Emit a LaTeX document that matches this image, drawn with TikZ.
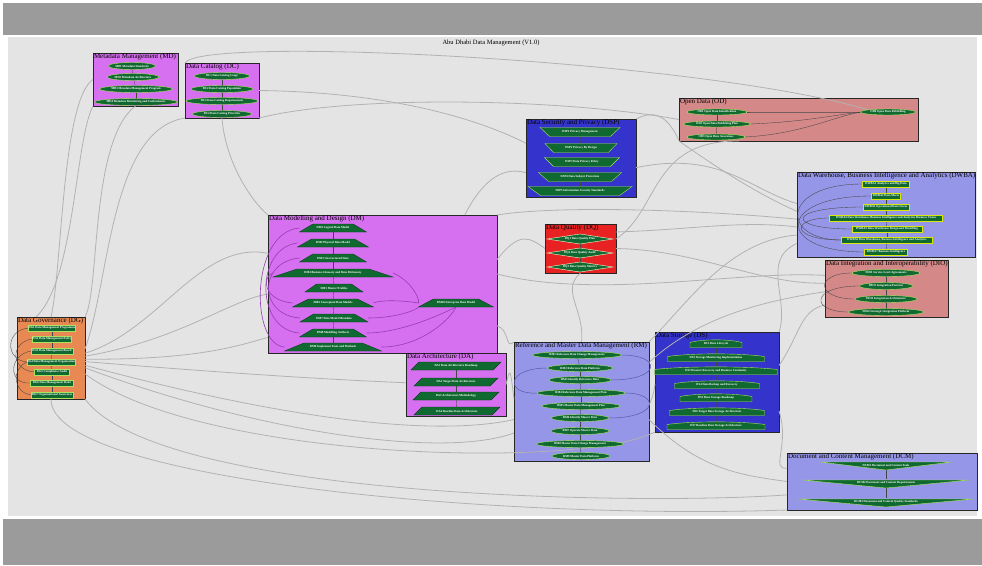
\documentclass[tikz,border=0pt]{standalone}
\usepackage{fontspec}
\setmainfont{Liberation Serif}
\usetikzlibrary{shapes.geometric}
\pgfdeclarelayer{bg}
\pgfdeclarelayer{wires}
\pgfsetlayers{bg,wires,main}

\definecolor{bandgray}{RGB}{155,155,155}
\definecolor{canvasgray}{RGB}{228,228,228}
\definecolor{violetfill}{RGB}{214,112,240}
\definecolor{orangefill}{RGB}{232,136,82}
\definecolor{bluefill}{RGB}{52,52,205}
\definecolor{lavfill}{RGB}{150,150,232}
\definecolor{rosefill}{RGB}{212,136,136}
\definecolor{redfill}{RGB}{232,34,34}
\definecolor{leaf}{RGB}{16,105,48}
\definecolor{leafedge}{RGB}{170,225,95}
\definecolor{wiregray}{RGB}{178,178,178}
\definecolor{innerwire}{RGB}{70,70,70}
\definecolor{dmwire}{RGB}{150,60,180}
\definecolor{rmwire}{RGB}{90,90,170}

\tikzset{
  cluster/.style={draw=black!85, line width=0.8pt, anchor=north west, inner sep=0pt, outer sep=0pt},
  clabel/.style={anchor=north west, inner sep=0.8pt, font=\fontsize{7}{7.5}\selectfont},
  lbl/.style={rectangle, inner sep=0pt, outer sep=0pt, text=white, font=\fontsize{3}{3.4}\selectfont\bfseries},
  oval/.style={lbl, ellipse, fill=leaf, draw=leafedge, line width=0.4pt},
  boxn/.style={lbl, fill=leaf, draw=leafedge, line width=0.5pt},
  shapefill/.style={fill=leaf, draw=leafedge, line width=0.4pt},
  darkrim/.style={draw=leaf!60!black},
  graywire/.style={draw=wiregray, line width=0.8pt},
  link/.style={draw=innerwire, line width=0.35pt},
  dmlink/.style={draw=dmwire, line width=0.6pt},
  rmlink/.style={draw=rmwire, line width=0.5pt},
}

% shape helpers: #1 extra style, #2 name, #3 x, #4 y, #5 width, #6 height, #7 text
\newcommand{\trapnode}[7][]{%
  \path[shapefill,#1] ({#3-#5/2},{#4+#6/2}) -- ({#3+#5/2},{#4+#6/2}) -- ({#3+0.3*#5},{#4-#6/2}) -- ({#3-0.3*#5},{#4-#6/2}) -- cycle;
  \node[lbl, minimum width=#5pt, minimum height=#6pt] (#2) at (#3,#4) {#7};}
\newcommand{\invtrapnode}[7][]{%
  \path[shapefill,#1] ({#3-#5/2},{#4-#6/2}) -- ({#3+#5/2},{#4-#6/2}) -- ({#3+0.38*#5},{#4+#6/2}) -- ({#3-0.38*#5},{#4+#6/2}) -- cycle;
  \node[lbl, minimum width=#5pt, minimum height=#6pt] (#2) at (#3,#4) {#7};}
\newcommand{\paranode}[7][]{%
  \path[shapefill,#1] ({#3-#5/2},{#4+#6/2}) -- ({#3+#5/2-8},{#4+#6/2}) -- ({#3+#5/2},{#4-#6/2}) -- ({#3-#5/2+8},{#4-#6/2}) -- cycle;
  \node[lbl, minimum width=#5pt, minimum height=#6pt] (#2) at (#3,#4) {#7};}
\newcommand{\diamnode}[7][]{%
  \path[shapefill,#1] ({#3-#5/2},#4) -- (#3,{#4-#6/2}) -- ({#3+#5/2},#4) -- (#3,{#4+#6/2}) -- cycle;
  \node[lbl, minimum width=#5pt, minimum height=#6pt] (#2) at (#3,#4) {#7};}
\newcommand{\archnode}[7][]{%
  \path[shapefill,#1] ({#3-#5/2},{#4+#6/2}) -- ({#3+#5/2},{#4+#6/2}) -- ({#3+#5/2},{#4-#6/2+2}) .. controls ({#3+#5/4},{#4-#6/2-1.5}) and ({#3-#5/4},{#4-#6/2-1.5}) .. ({#3-#5/2},{#4-#6/2+2}) -- cycle;
  \node[lbl, minimum width=#5pt, minimum height=#6pt] (#2) at (#3,#4) {#7};}
\newcommand{\vnode}[7][]{%
  \path[shapefill,#1] ({#3-#5/2},{#4-#6/2}) -- ({#3+#5/2},{#4-#6/2}) -- (#3,{#4+#6/2}) -- cycle;
  \node[lbl, minimum width=#5pt, minimum height=#6pt] (#2) at (#3,{#4-1}) {#7};}
% #1 key, #2 x, #3 y, #4 width, #5 height, #6 fill, #7 title
\newcommand{\clusterbox}[7]{%
  \node[cluster, fill=#6, minimum width=#4pt, minimum height=#5pt] (c#1) at (#2,#3) {};
  \node[clabel] (l#1) at (c#1.north west) {#7};}

\begin{document}
\begin{tikzpicture}[x=1pt,y=-1pt]
\useasboundingbox (0,0) rectangle (982,565);

\begin{pgfonlayer}{bg}
  \fill[white] (0,0) rectangle (982,565);
  \fill[bandgray] (3,3) rectangle (982,35);
  \fill[canvasgray] (8,37) rectangle (977,516);
  \fill[bandgray] (3,519) rectangle (982,565);

  \clusterbox{MD}{93}{53}{85}{53}{violetfill}{Metadata Management (MD)}
  \clusterbox{DC}{185}{63}{74}{55}{violetfill}{Data Catalog (DC)}
  \clusterbox{DG}{17}{317}{68}{82}{orangefill}{Data Governance (DG)}
  \clusterbox{DM}{268}{215}{229}{138}{violetfill}{Data Modelling and Design (DM)}
  \clusterbox{DA}{406}{353}{100}{63}{violetfill}{Data Architecture (DA)}
  \clusterbox{RM}{514}{342}{135}{119}{lavfill}{Reference and Master Data Management (RM)}
  \clusterbox{DSP}{526}{119}{110}{78}{bluefill}{Data Security and Privacy (DSP)}
  \clusterbox{OD}{679}{98}{239}{43}{rosefill}{Open Data (OD)}
  \clusterbox{DQ}{545}{224}{71}{49}{redfill}{Data Quality (DQ)}
  \clusterbox{DWBA}{797}{172}{178}{85}{lavfill}{Data Warehouse, Business Intelligence and Analytics (DWBA)}
  \clusterbox{DIO}{825}{260}{123}{57}{rosefill}{Data Integration and Interoperability (DIO)}
  \clusterbox{DS}{655}{332}{124}{100}{bluefill}{Data Storage (DS)}
  \clusterbox{DCM}{787}{453}{190}{57}{lavfill}{Document and Content Management (DCM)}
\end{pgfonlayer}

\node[font=\fontsize{6.5}{7}\selectfont] (title) at (491,43) {Abu Dhabi Data Management (V1.0)};

% Metadata Management
\node[oval, minimum width=47pt, minimum height=7pt] (md1) at (132,66) {MD1 Metadata Standards};
\node[oval, minimum width=50pt, minimum height=7pt] (md2) at (133,77) {MD2 Metadata Architecture};
\node[oval, minimum width=73pt, minimum height=7pt] (md3) at (136,89) {MD3 Metadata Management Program};
\node[oval, minimum width=77pt, minimum height=7pt] (md4) at (136,102) {MD4 Metadata Monitoring and Conformance};

% Data Catalog
\node[oval, minimum width=55pt, minimum height=7pt] (dc1) at (222,76) {DC1 Data Catalog Usage};
\node[oval, minimum width=62pt, minimum height=7pt] (dc2) at (222,89) {DC2 Data Catalog Population};
\node[oval, minimum width=72pt, minimum height=7pt] (dc3) at (222,101) {DC3 Data Catalog Requirements};
\node[oval, minimum width=59pt, minimum height=7pt] (dc4) at (222,114) {DC4 Data Catalog Priorities};

% Data Governance
\node[boxn, minimum width=45pt, minimum height=6pt] (dg1) at (52,328) {DG1 Data Management Programme};
\node[boxn, minimum width=39pt, minimum height=6pt] (dg2) at (52,339) {DG2 Data Management Policy};
\node[boxn, minimum width=42pt, minimum height=6pt] (dg3) at (52,351) {DG3 Data Management Board};
\node[boxn, minimum width=48pt, minimum height=6pt] (dg4) at (51,362) {DG4 Data Management Organisation};
\node[boxn, minimum width=35pt, minimum height=6pt] (dg5) at (52,372) {DG5 Compliance Audit};
\node[boxn, minimum width=43pt, minimum height=6pt] (dg6) at (52,383) {DG6 Data Management Roles};
\node[boxn, minimum width=42pt, minimum height=6pt] (dg7) at (52,395) {DG7 Organisational Awareness};

% Data Modelling and Design
\trapnode[darkrim]{dm1}{333}{228}{67}{8}{DM1 Logical Data Model}
\trapnode[darkrim]{dm2}{333}{243}{71}{8}{DM2 Physical Data Model}
\trapnode[darkrim]{dm3}{333}{258}{67}{8}{DM3 Unstructured Data}
\trapnode[darkrim]{dm4}{333}{273}{120}{8}{DM4 Business Glossary and Data Dictionary}
\trapnode[darkrim]{dm5}{334}{288}{58}{8}{DM5 Master Profiles}
\trapnode[darkrim]{dm6}{333}{303}{81}{8}{DM6 Conceptual Data Models}
\trapnode[darkrim]{dm7}{334}{318}{68}{8}{DM7 Data Model Metadata}
\trapnode[darkrim]{dm8}{333}{333}{67}{8}{DM8 Modelling Artifacts}
\trapnode[darkrim]{dm9}{333}{347}{97}{8}{DM9 Implement Tools and Methods}
\trapnode[darkrim]{dm10}{456}{303}{75}{8}{DM10 Enterprise Data Model}

% Data Architecture
\paranode[darkrim]{da1}{456}{366}{90}{8}{DA1 Data Architecture Roadmap}
\paranode[darkrim]{da2}{456}{382}{84}{8}{DA2 Target Data Architecture}
\paranode[darkrim]{da3}{456}{396}{86}{8}{DA3 Architecture Methodology}
\paranode[darkrim]{da4}{457}{411}{86}{8}{DA4 Baseline Data Architecture}

% Reference and Master Data Management
\node[oval, minimum width=89pt, minimum height=7pt] (rm1) at (577,355) {RM1 Reference Data Change Management};
\node[oval, minimum width=65pt, minimum height=7pt] (rm2) at (580,368) {RM2 Reference Data Platform};
\node[oval, minimum width=62pt, minimum height=7pt] (rm3) at (580,380) {RM3 Identify Reference Data};
\node[oval, minimum width=88pt, minimum height=7pt] (rm4) at (581,393) {RM4 Reference Data Management Plan};
\node[oval, minimum width=78pt, minimum height=7pt] (rm5) at (581,406) {RM5 Master Data Management Plan};
\node[oval, minimum width=57pt, minimum height=7pt] (rm6) at (580,418) {RM6 Identify Master Data};
\node[oval, minimum width=58pt, minimum height=7pt] (rm7) at (580,431) {RM7 Operate Master Data};
\node[oval, minimum width=87pt, minimum height=7pt] (rm8) at (580,444) {RM8 Master Data Change Management};
\node[oval, minimum width=58pt, minimum height=7pt] (rm9) at (581,456) {RM9 Master Data Platform};

% Data Security and Privacy
\invtrapnode{dsp1}{580}{132}{80}{9}{DSP1 Privacy Management}
\invtrapnode{dsp2}{581}{148}{72}{9}{DSP2 Privacy By Design}
\invtrapnode{dsp3}{582}{162}{75}{9}{DSP3 Data Privacy Policy}
\invtrapnode{dsp4}{580}{177}{83}{9}{DSP4 Data Subject Protection}
\invtrapnode{dsp5}{580}{191}{104}{9}{DSP5 Information Security Standards}

% Open Data
\node[oval, minimum width=60pt, minimum height=6pt] (od1) at (717,112) {OD1 Open Data Identification};
\node[oval, minimum width=67pt, minimum height=6pt] (od2) at (717,124) {OD2 Open Data Publishing Plan};
\node[oval, minimum width=58pt, minimum height=6pt] (od3) at (716,137) {OD3 Open Data Awareness};
\node[oval, minimum width=55pt, minimum height=6pt] (od4) at (888,112) {OD4 Open Data Publishing};

% Data Quality
\diamnode[draw=white!85!yellow]{dq1}{580}{239}{66}{10}{DQ1 Data Quality Plan}
\diamnode[draw=white!85!yellow]{dq2}{580}{253}{66}{10}{DQ2 Data Quality Audit}
\diamnode[draw=white!85!yellow]{dq3}{580}{267}{66}{10}{DQ3 Data Quality Metrics}

% Data Warehouse, Business Intelligence and Analytics
\node[boxn, draw=yellow!85!green, minimum width=47pt, minimum height=6pt] (dw1) at (886,184) {DWBA1 Analytics and Big Data};
\node[boxn, draw=yellow!85!green, minimum width=29pt, minimum height=6pt] (dw2) at (886,196) {DWBA2 Data Marts};
\node[boxn, draw=yellow!85!green, minimum width=46pt, minimum height=6pt] (dw3) at (886,207) {DWBA3 Operational Data Stores};
\node[boxn, draw=yellow!85!green, minimum width=113pt, minimum height=6pt] (dw4) at (886,218) {DWBA4 Data Warehouse, Business Intelligence and Analytics Business Vision};
\node[boxn, draw=yellow!85!green, minimum width=70pt, minimum height=6pt] (dw5) at (887,229) {DWBA5 Data Warehouse Design and Modelling};
\node[boxn, draw=yellow!85!green, minimum width=91pt, minimum height=6pt] (dw6) at (887,240) {DWBA6 Data Warehouse, Business Intelligence and Analytics};
\node[boxn, draw=yellow!85!green, minimum width=43pt, minimum height=6pt] (dw7) at (886,252) {DWBA7 Business Intelligence};

% Data Integration and Interoperability
\node[oval, minimum width=68pt, minimum height=7pt] (dio1) at (886,273) {DIO1 Service Level Agreements};
\node[oval, minimum width=53pt, minimum height=7pt] (dio2) at (886,286) {DIO2 Integration Patterns};
\node[oval, minimum width=62pt, minimum height=7pt] (dio3) at (886,299) {DIO3 Integration Architecture};
\node[oval, minimum width=75pt, minimum height=7pt] (dio4) at (886,312) {DIO4 Strategic Integration Platform};

% Data Storage
\archnode{ds1}{716}{344}{52}{7}{DS1 Data Lifecycle}
\archnode{ds2}{716}{358}{97}{7}{DS2 Storage Monitoring Implementation}
\archnode{ds3}{716}{371}{123}{7}{DS3 Disaster Recovery and Business Continuity}
\archnode{ds4}{717}{385}{85}{7}{DS4 Data Backup and Recovery}
\archnode{ds5}{716}{398}{72}{7}{DS5 Data Storage Roadmap}
\archnode{ds6}{717}{412}{95}{7}{DS6 Target Data Storage Architecture}
\archnode{ds7}{716}{426}{98}{7}{DS7 Baseline Data Storage Architecture}

% Document and Content Management
\vnode{dcm1}{886}{466}{132}{8}{DCM1 Document and Content Tools}
\vnode{dcm2}{886}{484}{167}{8}{DCM2 Document and Content Requirements}
\vnode{dcm3}{886}{503}{176}{8}{DCM3 Document and Content Quality Standards}

\begin{pgfonlayer}{wires}
  % links between the domains
  \draw[graywire] (cDC.north west) .. controls (200,35) and (700,60) .. (od4.north west);
  \draw[graywire] (cDC.south east) .. controls (350,95) and (560,98) .. (cOD.west);
  \draw[graywire] (cDC.east) .. controls (380,92) and (470,115) .. (cDSP.165);
  \draw[graywire] (cDSP.north east) .. controls (650,112) and (665,110) .. (cOD.190);
  \draw[graywire] (cOD.200) .. controls (650,140) and (660,210) .. (cDQ.15);
  \draw[graywire] (cDSP.-10) .. controls (720,150) and (750,190) .. (cDWBA.173);
  \draw[graywire] (cOD.south west) .. controls (720,170) and (760,195) .. (cDWBA.178);
  \draw[graywire] (cDM.north east) .. controls (560,205) and (700,210) .. (cDWBA.183);
  \draw[graywire] (cDQ.25) .. controls (690,230) and (740,220) .. (cDWBA.188);
  \draw[graywire] (cRM.north east) .. controls (690,300) and (730,240) .. (cDWBA.193);
  \draw[graywire] (cDS.north east) .. controls (790,300) and (760,260) .. (cDWBA.198);
  \draw[graywire] (cDQ.east) .. controls (700,250) and (760,285) .. (cDIO.175);
  \draw[graywire] (cRM.30) .. controls (700,315) and (770,300) .. (cDIO.183);
  \draw[graywire] (cDS.15) .. controls (800,335) and (800,310) .. (cDIO.195);
  \draw[graywire] (cDM.5) .. controls (600,300) and (740,270) .. (cDIO.168);
  \draw[graywire] (cDG.north east) .. controls (100,290) and (90,140) .. (cMD.south);
  \draw[graywire] (cDG.15) .. controls (110,280) and (110,130) .. (cDC.south west);
  \draw[graywire] (cMD.west) .. controls (62,100) and (62,270) .. (cDG.north);
  \draw[graywire] (cMD.south west) .. controls (75,140) and (75,280) .. (cDG.110);
  \draw[graywire] (cDG.8) .. controls (160,330) and (200,240) .. (cDM.165);
  \draw[graywire] (cDG.3) .. controls (180,340) and (230,300) .. (cDM.185);
  \draw[graywire] (cDG.-2) .. controls (200,360) and (240,345) .. (cDM.205);
  \draw[graywire] (cDG.-6) .. controls (250,375) and (340,380) .. (cDA.178);
  \draw[graywire] (cDG.-12) .. controls (250,410) and (420,440) .. (cRM.195);
  \draw[graywire] (cDG.-16) .. controls (250,430) and (440,460) .. (cRM.205);
  \draw[graywire] (cDG.-25) .. controls (200,460) and (580,470) .. (cDS.south west);
  \draw[graywire] (cDG.south east) .. controls (160,500) and (650,505) .. (cDCM.188);
  \draw[graywire] (cDG.south) .. controls (50,480) and (500,520) .. (cDCM.south west);
  \draw[graywire] (cDC.south) .. controls (225,160) and (250,200) .. (cDM.north west);
  \draw[graywire] (cDM.12) .. controls (520,230) and (530,238) .. (cDQ.west);
  \draw[graywire] (cDM.-20) .. controls (510,330) and (505,350) .. (cRM.north west);
  \draw[graywire] (cDA.east) .. controls (510,368) and (510,366) .. (cRM.178);
  \draw[graywire] (cRM.north) .. controls (585,310) and (560,290) .. (cDQ.south);
  \draw[graywire] (cRM.-3) .. controls (651,400) and (653,398) .. (cDS.182);
  \draw[graywire] (cDS.-25) .. controls (790,445) and (770,470) .. (cDCM.172);
  \draw[graywire] (cRM.-15) .. controls (700,470) and (740,475) .. (cDCM.180);
  \draw[graywire] (cDM.40) .. controls (480,185) and (500,165) .. (cDSP.195);

  % links inside the domains
  \foreach \a/\b in {md1/md2,md2/md3,md3/md4,dc1/dc2,dc2/dc3,dc3/dc4,
      dg1/dg2,dg2/dg3,dg3/dg4,dg4/dg5,dg5/dg6,dg6/dg7,
      dm1/dm2,dm2/dm3,dm3/dm4,dm4/dm5,dm5/dm6,dm6/dm7,dm7/dm8,dm8/dm9,
      da1/da2,da2/da3,da3/da4,rm1/rm2,rm2/rm3,rm3/rm4,rm4/rm5,rm5/rm6,rm6/rm7,rm7/rm8,rm8/rm9,
      dsp1/dsp2,dsp2/dsp3,dsp3/dsp4,dsp4/dsp5,od1/od2,od2/od3,dq1/dq2,dq2/dq3,
      dw1/dw2,dw2/dw3,dw3/dw4,dw4/dw5,dw5/dw6,dw6/dw7,dio1/dio2,dio2/dio3,dio3/dio4,
      ds1/ds2,ds2/ds3,ds3/ds4,ds4/ds5,ds5/ds6,ds6/ds7,dcm1/dcm2,dcm2/dcm3}
    \draw[link] (\a) -- (\b);
  \draw[link] (od1.east) .. controls (800,112) and (830,112) .. (od4.west);
  \draw[link] (od2.east) .. controls (800,122) and (830,116) .. (od4.west);
  \draw[link] (od3.east) .. controls (800,134) and (830,118) .. (od4.west);

  \draw[link] (dg1.west) .. controls (5,330) and (5,360) .. (dg4.west);
  \draw[link] (dg2.west) .. controls (10,342) and (10,370) .. (dg5.west);
  \draw[link] (dg3.west) .. controls (8,355) and (8,385) .. (dg6.west);
  \draw[link] (dg4.west) .. controls (12,368) and (12,392) .. (dg7.west);

  \draw[dmlink] (dm9.west) .. controls (250,345) and (250,232) .. (dm1.west);
  \draw[dmlink] (dm8.west) .. controls (255,330) and (255,248) .. (dm2.west);
  \draw[dmlink] (dm7.west) .. controls (258,315) and (258,262) .. (dm3.west);
  \draw[dmlink] (dm6.west) .. controls (262,300) and (262,276) .. (dm4.west);
  \draw[dmlink] (dm4.east) .. controls (410,280) and (420,298) .. (dm10.west);
  \draw[dmlink] (dm6.east) .. controls (380,300) and (400,300) .. (dm10.west);
  \draw[dmlink] (dm7.east) .. controls (400,318) and (420,308) .. (dm10.south west);
  \draw[dmlink] (dm8.east) .. controls (400,333) and (440,315) .. (dm10.south);
  \draw[dmlink] (dm9.east) .. controls (420,347) and (450,320) .. (dm10.south);

  \draw[link] (dw7.west) .. controls (775,252) and (775,196) .. (dw2.west);
  \draw[link] (dw6.west) .. controls (780,240) and (780,184) .. (dw1.west);
  \draw[link] (dw5.west) .. controls (785,229) and (785,207) .. (dw3.west);
  \draw[link] (dw6.west) .. controls (790,240) and (790,218) .. (dw4.west);

  \draw[link] (dio4.west) .. controls (810,312) and (810,286) .. (dio2.west);
  \draw[link] (dio3.west) .. controls (815,299) and (815,273) .. (dio1.west);

  \draw[rmlink] (rm1.east) .. controls (662,355) and (662,380) .. (rm3.east);
  \draw[rmlink] (rm4.east) .. controls (660,393) and (660,418) .. (rm6.east);
  \draw[rmlink] (rm2.west) .. controls (505,368) and (505,395) .. (rm4.west);
\end{pgfonlayer}
\end{tikzpicture}
\end{document}
